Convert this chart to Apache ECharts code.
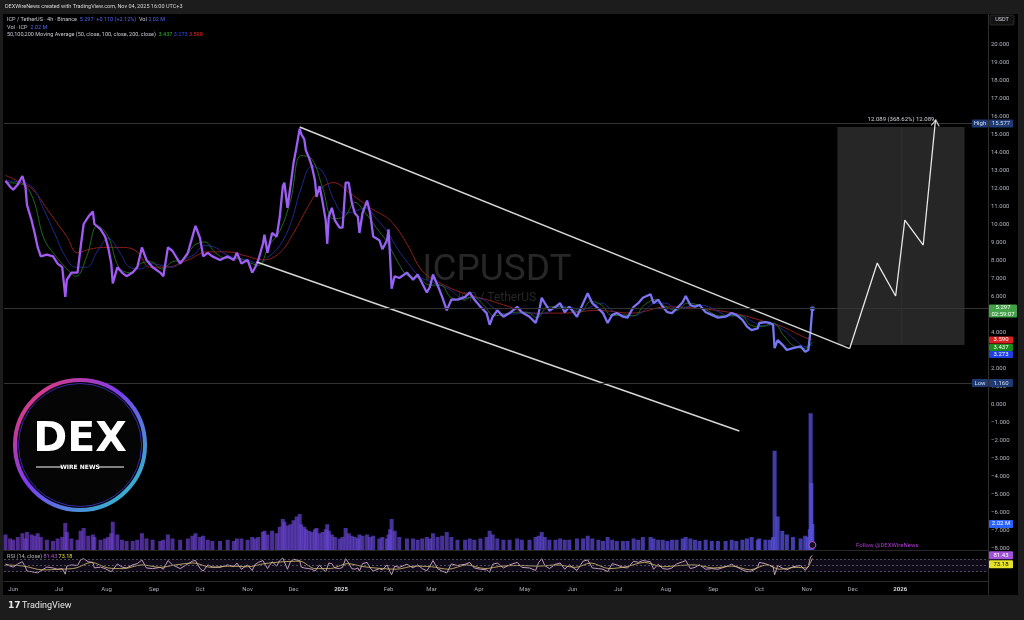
<!DOCTYPE html>
<html><head><meta charset="utf-8">
<script src="https://cdn.jsdelivr.net/npm/echarts@6/dist/echarts.min.js"></script>
<style>html,body{margin:0;padding:0;background:#1c1c1c;}#c{width:1024px;height:620px;}</style>
</head><body><div id="c"></div>
<script>
// ---------------- DATA ----------------
const priceDates = [
'2024-05-27','2024-05-30','2024-06-01','2024-06-04','2024-06-07','2024-06-09','2024-06-10','2024-06-13','2024-06-15','2024-06-17',
'2024-06-19','2024-06-23','2024-06-27','2024-06-30','2024-07-03','2024-07-05','2024-07-06','2024-07-09','2024-07-13','2024-07-15',
'2024-07-17','2024-07-20','2024-07-23','2024-07-24','2024-07-28','2024-07-31','2024-08-02','2024-08-04','2024-08-05','2024-08-08',
'2024-08-11','2024-08-14','2024-08-18','2024-08-21','2024-08-24','2024-08-27','2024-08-31','2024-09-05','2024-09-07','2024-09-10',
'2024-09-13','2024-09-18','2024-09-23','2024-09-26','2024-09-28','2024-10-01','2024-10-03','2024-10-06','2024-10-09','2024-10-14',
'2024-10-19','2024-10-23','2024-10-25','2024-10-28','2024-11-01','2024-11-04','2024-11-06','2024-11-08','2024-11-11','2024-11-12',
'2024-11-14','2024-11-17','2024-11-20','2024-11-22','2024-11-24','2024-11-25','2024-11-27','2024-11-29','2024-12-01','2024-12-03',
'2024-12-05','2024-12-06','2024-12-08','2024-12-09','2024-12-11','2024-12-13','2024-12-15','2024-12-16','2024-12-18','2024-12-20',
'2024-12-22','2024-12-23','2024-12-24','2024-12-26','2024-12-28','2024-12-31','2025-01-02','2025-01-04','2025-01-06','2025-01-08',
'2025-01-10','2025-01-12','2025-01-13','2025-01-15','2025-01-18','2025-01-20','2025-01-22','2025-01-26','2025-01-28','2025-01-31',
'2025-02-01','2025-02-02','2025-02-03','2025-02-05','2025-02-08','2025-02-13','2025-02-17','2025-02-20','2025-02-23','2025-02-26',
'2025-02-28','2025-03-02','2025-03-05','2025-03-08','2025-03-11','2025-03-14','2025-03-18','2025-03-23','2025-03-26','2025-03-29',
'2025-04-02','2025-04-06','2025-04-08','2025-04-10','2025-04-13','2025-04-17','2025-04-21','2025-04-26','2025-04-29','2025-05-04',
'2025-05-08','2025-05-10','2025-05-12','2025-05-14','2025-05-17','2025-05-21','2025-05-24','2025-05-27','2025-05-30','2025-06-04',
'2025-06-08','2025-06-11','2025-06-14','2025-06-18','2025-06-21','2025-06-24','2025-06-27','2025-06-30','2025-07-04','2025-07-07',
'2025-07-11','2025-07-14','2025-07-17','2025-07-22','2025-07-24','2025-07-27','2025-07-30','2025-08-02','2025-08-05','2025-08-08',
'2025-08-12','2025-08-14','2025-08-17','2025-08-20','2025-08-23','2025-08-27','2025-08-31','2025-09-04','2025-09-09','2025-09-13',
'2025-09-16','2025-09-20','2025-09-23','2025-09-26','2025-09-30','2025-10-01','2025-10-05','2025-10-08','2025-10-10','2025-10-11',
'2025-10-13','2025-10-16','2025-10-19','2025-10-23','2025-10-28','2025-10-31','2025-11-02','2025-11-03 00:00','2025-11-03 12:00','2025-11-04 00:00',
'2025-11-04 16:00'];
const priceValues = [
12.4,12.07,11.9,12.2,12.67,12.06,11.06,10.2,9.5,8.7,
8.2,8.3,8.2,7.8,7.6,5.95,6.9,7.3,7.3,8.7,
10.0,10.4,10.7,10.0,9.7,9.3,8.7,7.8,6.7,7.6,
7.3,7.1,7.3,7.6,8.7,8.0,7.6,7.3,7.1,8.7,
8.5,7.8,8.4,9.3,9.9,9.2,8.2,8.4,8.2,8.0,
8.2,8.0,8.4,7.8,8.0,7.3,7.6,8.0,8.9,9.4,
8.4,9.5,9.3,10.4,12.1,12.3,10.9,12.1,13.4,14.3,
15.3,15.0,14.7,14.1,13.7,13.2,12.4,11.5,12.1,11.2,
10.2,8.9,10.4,10.9,10.2,9.8,9.8,12.3,12.3,11.2,
10.6,10.4,9.5,10.6,11.3,10.6,9.3,9.1,8.6,9.1,
9.7,8.2,6.4,7.1,7.0,7.3,6.9,7.2,6.7,6.2,
6.5,7.2,6.6,5.95,5.2,5.8,5.8,5.95,6.2,5.8,
5.4,5.05,4.4,4.85,5.2,4.85,5.05,5.4,5.1,4.85,
4.5,5.05,5.9,5.6,5.2,5.4,5.6,5.1,5.4,4.85,
5.6,6.15,5.6,5.3,5.05,4.5,4.95,5.05,4.85,4.8,
5.4,5.6,5.9,6.1,5.6,5.8,5.4,5.1,5.05,5.3,
5.65,6.0,5.5,5.4,5.5,5.1,4.95,4.8,4.85,5.05,
4.95,4.67,4.3,4.1,4.2,4.5,4.55,4.5,4.4,3.1,
3.55,3.3,3.0,3.1,3.2,2.9,3.0,2.95,4.1,4.67,
5.297];
// volume in millions, same dates as price
const volumeValues = [
1.2,0.9,0.8,1.0,1.3,0.9,1.4,1.2,1.1,1.3,1.0,0.8,0.7,0.9,1.0,2.1,1.4,0.9,0.8,1.5,
1.7,1.1,1.2,1.0,0.8,0.9,1.0,1.3,2.2,1.2,0.8,0.7,0.7,0.8,1.3,0.9,0.8,0.7,0.8,1.2,
0.9,0.8,0.9,1.1,1.3,1.0,1.1,0.8,0.7,0.7,0.8,0.7,0.9,0.9,0.8,1.0,0.9,1.0,1.4,1.5,
1.2,1.5,1.3,1.8,2.4,2.2,1.9,2.0,2.3,2.6,2.8,2.0,1.8,1.6,1.5,1.4,1.6,1.7,1.3,1.4,
1.6,2.0,1.5,1.2,1.0,0.9,1.0,1.7,1.3,1.1,1.0,0.9,1.2,1.1,1.2,1.0,1.1,0.9,1.0,0.9,
1.2,1.6,2.4,1.5,1.0,0.9,0.9,0.8,0.9,1.0,0.9,1.3,1.0,1.1,1.4,1.0,0.8,0.8,0.9,0.8,
0.9,1.0,1.5,1.2,0.9,0.8,0.8,0.9,0.8,0.8,1.0,1.1,1.4,1.0,0.8,0.8,0.9,0.8,0.8,0.9,
0.9,1.1,0.9,0.8,0.7,1.0,0.8,0.7,0.7,0.7,0.9,0.8,1.0,1.0,0.9,0.8,0.8,0.7,0.8,0.8,
0.9,1.0,0.9,0.8,0.7,0.8,0.7,0.7,0.7,0.8,0.7,0.8,0.9,1.0,0.8,0.9,0.8,0.8,1.0,7.7,
2.6,1.5,1.2,1.0,0.9,1.1,1.0,1.6,10.6,5.2,2.02];
// RSI(14), same dates as price
const rsiValues = [
55,48,45,55,62,45,32,30,28,26,33,45,42,38,40,22,48,52,50,68,
72,62,60,42,45,40,35,30,24,55,45,42,52,56,68,42,40,44,38,66,
52,40,55,64,66,40,32,52,45,44,52,46,58,38,52,34,54,60,66,64,
40,62,48,66,74,70,38,62,70,68,66,45,42,38,40,38,32,28,52,38,
30,24,58,56,42,40,44,72,58,40,38,42,32,56,60,42,32,40,36,52,
58,30,20,48,44,54,42,52,40,33,48,66,40,32,26,55,50,54,60,42,
38,36,28,54,58,42,52,60,44,42,34,60,72,50,40,54,58,38,52,34,
64,68,42,40,38,30,56,52,44,42,64,60,66,62,38,54,40,38,42,55,
62,66,40,44,52,38,40,38,46,54,46,36,30,32,44,60,56,50,46,20,
50,42,36,46,50,34,48,44,78,80,81.43];
const rsiMaDates = ['2024-05-27','2024-06-08','2024-06-20','2024-07-02','2024-07-12','2024-07-22','2024-08-02','2024-08-12','2024-08-24','2024-09-05',
'2024-09-15','2024-09-27','2024-10-08','2024-10-20','2024-11-01','2024-11-12','2024-11-24','2024-12-05','2024-12-15','2024-12-25',
'2025-01-05','2025-01-16','2025-01-28','2025-02-06','2025-02-18','2025-03-01','2025-03-12','2025-03-24','2025-04-05','2025-04-16',
'2025-04-28','2025-05-10','2025-05-22','2025-06-03','2025-06-13','2025-06-25','2025-07-06','2025-07-18','2025-07-30','2025-08-10',
'2025-08-20','2025-09-01','2025-09-13','2025-09-25','2025-10-06','2025-10-14','2025-10-25','2025-11-01','2025-11-03 12:00','2025-11-04 16:00'];
const rsiMaValues = [52,48,36,38,42,60,42,40,52,44,52,58,44,48,46,56,62,64,40,40,
56,46,40,38,48,46,38,52,40,48,50,48,52,44,58,40,46,60,46,50,
52,42,48,36,52,38,44,42,60,73.18];
const maDates = ['2024-05-27','2024-06-07','2024-06-14','2024-06-21','2024-06-28','2024-07-05','2024-07-12','2024-07-19','2024-07-26','2024-08-02',
'2024-08-09','2024-08-16','2024-08-23','2024-08-30','2024-09-06','2024-09-13','2024-09-20','2024-09-27','2024-10-04','2024-10-11',
'2024-10-18','2024-10-25','2024-11-01','2024-11-08','2024-11-15','2024-11-22','2024-11-29','2024-12-06','2024-12-13','2024-12-20',
'2024-12-27','2025-01-03','2025-01-10','2025-01-17','2025-01-24','2025-01-31','2025-02-07','2025-02-14','2025-02-21','2025-02-28',
'2025-03-07','2025-03-14','2025-03-21','2025-03-28','2025-04-04','2025-04-11','2025-04-18','2025-04-25','2025-05-02','2025-05-09',
'2025-05-16','2025-05-23','2025-05-30','2025-06-06','2025-06-13','2025-06-20','2025-06-27','2025-07-04','2025-07-11','2025-07-18',
'2025-07-25','2025-08-01','2025-08-08','2025-08-15','2025-08-22','2025-08-29','2025-09-05','2025-09-12','2025-09-19','2025-09-26',
'2025-10-03','2025-10-10','2025-10-17','2025-10-24','2025-10-31','2025-11-04 16:00'];
const ma50Values = [12.3,12.2,11.4,9.2,8.3,7.6,7.1,8.2,9.9,9.3,
7.6,7.3,7.8,7.9,7.5,7.9,8.0,8.8,9.0,8.4,
8.1,8.1,7.9,7.7,8.8,9.6,11.3,13.8,13.6,12.0,
10.3,10.4,11.2,10.6,9.8,9.0,7.9,7.1,7.0,6.6,
6.6,5.9,5.8,5.95,5.5,4.9,5.0,5.1,5.1,4.8,
5.4,5.4,5.3,5.1,5.7,5.5,4.9,4.95,4.9,5.5,
5.8,5.4,5.2,5.6,5.5,5.15,4.9,4.9,4.9,4.35,
4.3,4.5,3.8,3.2,3.1,3.437];
const ma100Values = [12.4,12.3,12.0,10.8,9.5,8.2,7.6,7.6,8.5,9.2,
8.5,7.6,7.5,7.8,7.7,7.6,8.0,8.3,8.8,8.7,
8.3,8.1,8.0,7.8,8.2,8.8,10.0,12.0,13.2,12.9,
11.4,10.6,10.7,10.9,10.3,9.6,8.6,7.8,7.1,6.8,
6.6,6.3,5.9,5.9,5.8,5.3,5.0,5.0,5.1,5.0,
5.1,5.4,5.4,5.2,5.4,5.6,5.2,4.95,4.9,5.2,
5.6,5.6,5.3,5.4,5.5,5.4,5.1,4.9,4.9,4.6,
4.35,4.4,4.1,3.6,3.2,3.273];
const ma200Dates = ['2024-05-27','2024-06-06','2024-06-14','2024-06-25','2024-07-06','2024-07-13','2024-07-21','2024-07-30','2024-08-12','2024-08-21',
'2024-08-29','2024-09-09','2024-09-23','2024-10-06','2024-10-19','2024-11-01','2024-11-11','2024-11-22','2024-12-01','2024-12-10',
'2024-12-18','2024-12-27','2025-01-07','2025-01-20','2025-02-02','2025-02-13','2025-02-23','2025-03-07','2025-03-22','2025-04-06',
'2025-04-21','2025-05-04','2025-05-26','2025-06-17','2025-07-10','2025-08-02','2025-08-23','2025-09-14','2025-10-06','2025-10-16',
'2025-11-01','2025-11-04 16:00'];
const ma200Values = [12.7,12.3,11.9,10.6,9.3,8.4,8.6,8.7,8.7,8.45,
7.6,7.6,8.0,8.45,8.45,8.2,8.0,8.4,9.5,10.9,
11.9,12.3,11.7,10.9,10.2,8.9,7.4,6.7,6.15,5.8,
5.4,5.05,5.05,5.2,5.05,5.4,5.3,5.05,4.55,4.3,
3.65,3.59];
const channelUpperDates = ['2024-12-05','2025-11-29'];
const channelUpperValues = [15.39, 3.08];
const channelLowerDates = ['2024-11-07','2025-09-18'];
const channelLowerValues = [7.89, -1.5];
const projectionDates = ['2025-11-29','2025-12-17','2025-12-29','2026-01-04','2026-01-16','2026-01-24'];
const projectionValues = [3.08, 7.83, 6.0, 10.22, 8.83, 15.78];
const boxDates = ['2025-11-21','2026-01-02','2026-02-12'];
const boxValues = [15.39, 3.28];
const projectionLabel = '12.089 (368.62%) 12.089';
const timeTicks = ['2024-06-01','2024-07-01','2024-08-01','2024-09-01','2024-10-01','2024-11-01','2024-12-01','2025-01-01','2025-02-01','2025-03-01',
'2025-04-01','2025-05-01','2025-06-01','2025-07-01','2025-08-01','2025-09-01','2025-10-01','2025-11-01','2025-12-01','2026-01-01'];
const timeLabels = ['Jun','Jul','Aug','Sep','Oct','Nov','Dec','2025','Feb','Mar','Apr','May','Jun','Jul','Aug','Sep','Oct','Nov','Dec','2026'];
const priceTickRange = [-8, 20];
const extremeLabels = ['High','Low'];
const extremeValues = [15.577, 1.160];
const legendChange = '+0.110 (+2.12%)';
const countdown = '02:59:07';

// ---------------- HELPERS ----------------
function ts(s){const p=s.split(' ');const d=p[0].split('-').map(Number);const h=p[1]?Number(p[1].split(':')[0]):0;return new Date(d[0],d[1]-1,d[2],h).getTime();}
const zip=(ds,vs)=>ds.map((d,i)=>[ts(d),vs[i]]);
const FONT='Roboto, "Liberation Sans", sans-serif';
const xMin=ts('2024-05-26'), xMax=ts('2026-02-27 07:00');
const tickTs=timeTicks.map(ts);
const last=priceValues.length-1;

const lineGrad=new echarts.graphic.LinearGradient(0,0,988,0,[{offset:0,color:'#a659f2'},{offset:0.35,color:'#9a5ff3'},{offset:0.55,color:'#8070f4'},{offset:1,color:'#6a80ee'}],true);
const volGrad=new echarts.graphic.LinearGradient(0,0,988,0,[{offset:0,color:'rgba(110,60,200,0.72)'},{offset:0.5,color:'rgba(95,70,210,0.72)'},{offset:1,color:'rgba(80,85,225,0.8)'}],true);

const xAxisBase={type:'value',min:xMin,max:xMax,show:false,splitLine:{show:false}};
const option={
  backgroundColor:'#000000',
  animation:false,
  grid:[
    {left:4,width:984,top:8,height:558},
    {left:4,width:984,top:400,height:150},
    {left:4,width:984,top:550,height:31}
  ],
  xAxis:[
    Object.assign({gridIndex:0},xAxisBase),
    Object.assign({gridIndex:1},xAxisBase),
    {gridIndex:2,type:'value',min:xMin,max:xMax,position:'bottom',
     axisLine:{show:true,lineStyle:{color:'#2a2a2a'}},axisTick:{show:false},splitLine:{show:false},
     axisLabel:{customValues:tickTs,margin:5,fontSize:6,color:'#a8abb3',fontFamily:FONT,hideOverlap:false,showMinLabel:true,showMaxLabel:true,
       formatter:function(v){let i=-1,best=1e18;tickTs.forEach((t,k)=>{const d=Math.abs(t-v);if(d<best){best=d;i=k;}});if(best>86400000*2)return '';const l=timeLabels[i];return /^\d{4}$/.test(l)?'{y|'+l+'}':l;},
       rich:{y:{fontSize:6,color:'#d8dae0',fontWeight:'bold',fontFamily:FONT}}}}
  ],
  yAxis:[
    {gridIndex:0,type:'value',position:'right',min:-9,max:22,interval:1,
     axisLine:{show:false},axisTick:{show:false},splitLine:{show:false},
     axisLabel:{margin:3,fontSize:6,color:'#b2b5be',fontFamily:FONT,align:'left',
       formatter:function(v){if(v<priceTickRange[0]||v>priceTickRange[1])return '';return (v<0?'\u2212':'')+Math.abs(v).toFixed(3);}}},
    {gridIndex:1,type:'value',min:0,max:11.63,show:false,splitLine:{show:false}},
    {gridIndex:2,type:'value',min:0,max:100,show:false,splitLine:{show:false}}
  ],
  series:[
    {name:'Vol',type:'bar',xAxisIndex:1,yAxisIndex:1,data:zip(priceDates,volumeValues),barWidth:4,itemStyle:{color:volGrad},z:1},
    {name:'MA200',type:'line',data:zip(ma200Dates,ma200Values),showSymbol:false,smooth:0.4,lineStyle:{color:'#8e1d1d',width:1},z:2},
    {name:'MA100',type:'line',data:zip(maDates,ma100Values),showSymbol:false,smooth:0.4,lineStyle:{color:'#1c2a8a',width:1},z:2},
    {name:'MA50',type:'line',data:zip(maDates,ma50Values),showSymbol:false,smooth:0.4,lineStyle:{color:'#1f6a1f',width:1},z:2},
    {name:'Price',type:'line',data:zip(priceDates,priceValues),showSymbol:false,lineStyle:{color:lineGrad,width:2.3},z:3,
     markLine:{silent:true,symbol:['none','none'],label:{show:false},lineStyle:{color:'#333333',width:1,type:'solid'},
       data:[{yAxis:extremeValues[0]},{yAxis:extremeValues[1]},{yAxis:priceValues[last]}]}},
    {name:'Last',type:'scatter',data:[[ts(priceDates[last]),priceValues[last]]],symbolSize:5,itemStyle:{color:'#6a80ee'},z:4},
    {name:'ChannelUpper',type:'line',data:zip(channelUpperDates,channelUpperValues),showSymbol:false,lineStyle:{color:'#d6d6d6',width:1.4},z:4},
    {name:'ChannelLower',type:'line',data:zip(channelLowerDates,channelLowerValues),showSymbol:false,lineStyle:{color:'#d6d6d6',width:1.4},z:4},
    {name:'Box',type:'line',data:[[ts(boxDates[1]),boxValues[0]],[ts(boxDates[1]),boxValues[1]]],showSymbol:false,lineStyle:{color:'#303030',width:1},z:1,
     markArea:{silent:true,itemStyle:{color:'#262626'},
       label:{show:true,position:'top',distance:4,formatter:projectionLabel,color:'#d1d4dc',fontSize:6,fontFamily:FONT},
       data:[[{coord:[ts(boxDates[0]),boxValues[0]]},{coord:[ts(boxDates[2]),boxValues[1]]}]]}},
    {name:'Projection',type:'line',data:zip(projectionDates,projectionValues),showSymbol:false,lineStyle:{color:'#e6e6e6',width:1.3},z:5},
    {name:'Arrow',type:'scatter',data:[[ts(projectionDates[projectionDates.length-1]),projectionValues[projectionValues.length-1]]],
     symbol:'path://M0,10 L5,0 L10,10',symbolSize:[8,6],symbolOffset:[0,3],symbolRotate:-6,
     itemStyle:{color:'rgba(0,0,0,0)',borderColor:'#e6e6e6',borderWidth:1.3},z:5},
    {name:'RSI',type:'line',xAxisIndex:2,yAxisIndex:2,data:zip(priceDates,rsiValues),showSymbol:false,lineStyle:{color:'#c29ab8',width:1},z:3,
     markArea:{silent:true,itemStyle:{color:'rgba(126,87,194,0.12)'},data:[[{yAxis:30},{yAxis:70}]]},
     markLine:{silent:true,symbol:['none','none'],label:{show:false},lineStyle:{color:'#5d606b',width:0.8,type:[2,2]},
       data:[{yAxis:70},{yAxis:50},{yAxis:30}]}},
    {name:'RSI MA',type:'line',xAxisIndex:2,yAxisIndex:2,data:zip(rsiMaDates,rsiMaValues),showSymbol:false,smooth:0.3,lineStyle:{color:'#d8c070',width:1,opacity:0.8},z:3}
  ]
};

const chart=echarts.init(document.getElementById('c'),null,{renderer:'canvas'});
chart.setOption(option);

// ---------------- ANNOTATIONS ----------------
const px=d=>chart.convertToPixel({xAxisIndex:0},ts(d));
const py=v=>chart.convertToPixel({yAxisIndex:0},v);
const pv=v=>chart.convertToPixel({yAxisIndex:1},v);
const pr=v=>chart.convertToPixel({yAxisIndex:2},v);

function txt(x,y,text,o){o=o||{};return {type:'text',x:x,y:y,z:o.z||60,style:Object.assign({text:text,fill:o.fill||'#d1d4dc',font:(o.weight||'normal')+' '+(o.size||6)+'px '+(o.family||FONT),
  textAlign:o.align||'left',align:o.align||'left',textVerticalAlign:'middle',verticalAlign:'middle'},o.rich?{rich:o.rich}:{})};}
function tag(x,yc,w,h,bg,text,fg){return [
  {type:'rect',z:100,shape:{x:x,y:yc-h/2,width:w,height:h,r:1},style:{fill:bg}},
  {type:'text',z:101,x:x+w/2,y:yc,style:{text:text,fill:fg||'#ffffff',font:'6px '+FONT,textAlign:'center',align:'center',textVerticalAlign:'middle',verticalAlign:'middle',lineHeight:6.5}}];}

const g=[];
g.push({type:'rect',z:50,shape:{x:0,y:0,width:1024,height:14},style:{fill:'#1c1c1c'}});
g.push({type:'rect',z:50,shape:{x:0,y:595,width:1024,height:25},style:{fill:'#1c1c1c'}});
g.push({type:'rect',z:50,shape:{x:0,y:14,width:3,height:581},style:{fill:'#1c1c1c'}});
g.push({type:'rect',z:50,shape:{x:1018,y:14,width:6,height:581},style:{fill:'#1c1c1c'}});
g.push({type:'line',z:40,shape:{x1:988.5,y1:14,x2:988.5,y2:595},style:{stroke:'#2e2e2e',lineWidth:1}});
g.push({type:'line',z:40,shape:{x1:3,y1:550.5,x2:988,y2:550.5},style:{stroke:'#262626',lineWidth:1}});
g.push(txt(5,7,'DEXWireNews created with TradingView.com, Nov 04, 2025 16:00 UTC+3',{size:5.5,fill:'#d6d6d6',z:61}));
const blue='#4f66ee';
g.push(txt(7,20,'{g|ICP / TetherUS \u00b7 4h \u00b7 Binance}  {b|'+priceValues[last].toFixed(3)+'  '+legendChange+'}  {g|Vol} {b|'+volumeValues[last].toFixed(2)+' M}',
  {size:5.5,rich:{g:{fill:'#c8cad0',fontSize:5.5,fontFamily:FONT},b:{fill:blue,fontSize:5.5,fontFamily:FONT}}}));
g.push(txt(7,27.5,'{g|Vol \u00b7 ICP}  {b|'+volumeValues[last].toFixed(2)+' M}',{size:5.5,rich:{g:{fill:'#c8cad0',fontSize:5.5,fontFamily:FONT},b:{fill:blue,fontSize:5.5,fontFamily:FONT}}}));
g.push(txt(7,35,'{g|50,100,200 Moving Average (50, close, 100, close, 200, close)}  {gr|'+ma50Values[ma50Values.length-1].toFixed(3)+'} {bl|'+ma100Values[ma100Values.length-1].toFixed(3)+'} {rd|'+ma200Values[ma200Values.length-1].toFixed(3)+'}',
  {size:5.5,rich:{g:{fill:'#c8cad0',fontSize:5.5,fontFamily:FONT},gr:{fill:'#2fb02f',fontSize:5.5,fontFamily:FONT},bl:{fill:'#3050f0',fontSize:5.5,fontFamily:FONT},rd:{fill:'#ee2a2a',fontSize:5.5,fontFamily:FONT}}}));
g.push({type:'text',z:0,x:497,y:271,style:{text:'ICPUSDT',fill:'#272727',font:'37px '+FONT,textAlign:'center',align:'center',textVerticalAlign:'middle',verticalAlign:'middle'}});
g.push({type:'text',z:0,x:497,y:298,style:{text:'ICP / TetherUS',fill:'#272727',font:'12px '+FONT,textAlign:'center',align:'center',textVerticalAlign:'middle',verticalAlign:'middle'}});
g.push({type:'circle',z:60,shape:{cx:80,cy:445,r:65},style:{fill:'#050505',stroke:new echarts.graphic.LinearGradient(0,0,1,1,[{offset:0,color:'#ff3a5a'},{offset:0.45,color:'#7a3cf0'},{offset:1,color:'#1fd8c2'}]),lineWidth:4}});
g.push({type:'circle',z:61,shape:{cx:80,cy:445,r:61.5},style:{fill:'none',stroke:'#3528a8',lineWidth:1}});
g.push({type:'text',z:62,x:80,y:440,style:{text:'DEX',fill:'#ffffff',font:'bold 41px "DejaVu Sans", sans-serif',textAlign:'center',align:'center',textVerticalAlign:'middle',verticalAlign:'middle'}});
g.push({type:'text',z:62,x:80,y:467,style:{text:'WIRE NEWS',fill:'#ffffff',font:'bold 6px "DejaVu Sans", sans-serif',textAlign:'center',align:'center',textVerticalAlign:'middle',verticalAlign:'middle'}});
g.push({type:'line',z:62,shape:{x1:36,y1:467,x2:61,y2:467},style:{stroke:'#ffffff',lineWidth:1}});
g.push({type:'line',z:62,shape:{x1:99,y1:467,x2:124,y2:467},style:{stroke:'#ffffff',lineWidth:1}});
g.push(txt(8,606,'{l|17} {t|TradingView}',{z:61,rich:{l:{fill:'#e6e6e6',fontSize:9,fontWeight:'bold',fontFamily:'"DejaVu Sans", sans-serif'},t:{fill:'#e6e6e6',fontSize:9,fontFamily:FONT}}}));
g.push({type:'rect',z:100,shape:{x:990,y:15,width:24,height:10,r:1},style:{fill:'#121212',stroke:'#303030',lineWidth:0.8}});
g.push(txt(1002,20,'USDT',{size:5.5,align:'center',z:101}));
const hy=py(extremeValues[0]), ly=py(extremeValues[1]);
g.push(...tag(972,hy,16,8,'#1f3a72',extremeLabels[0],'#d6def0'));
g.push(...tag(989,hy,24,8,'#1f3a72',extremeValues[0].toFixed(3),'#d6def0'));
g.push(...tag(972,ly,16,8,'#1f3a72',extremeLabels[1],'#d6def0'));
g.push(...tag(989,ly,24,8,'#1f3a72',extremeValues[1].toFixed(3),'#d6def0'));
const cy=py(priceValues[last]);
g.push(...tag(989,cy+2.3,28,13,'#43a047',priceValues[last].toFixed(3)+'\n'+countdown,'#ffffff'));
const m200=ma200Values[ma200Values.length-1], m50=ma50Values[ma50Values.length-1], m100=ma100Values[ma100Values.length-1];
const my=py(m200);
g.push(...tag(989,my+0.6,24,7,'#d42020',m200.toFixed(3)));
g.push(...tag(989,my+8,24,7,'#1a8a1a',m50.toFixed(3)));
g.push(...tag(989,my+15.2,24,7,'#1f3fe0',m100.toFixed(3)));
g.push(...tag(989,pv(volumeValues[last]),24,8,'#2962ff',volumeValues[last].toFixed(2)+' M'));
g.push(...tag(989,pr(rsiValues[last])-0.5,24,8,'#a052d8',rsiValues[last].toFixed(2)));
g.push(...tag(989,pr(rsiValues[last])+8.5,24,8,'#e4e22a',rsiMaValues[rsiMaValues.length-1].toFixed(2),'#111111'));
g.push(txt(7,557,'{g|RSI (14, close)} {p|'+rsiValues[last].toFixed(2)+'} {y|'+rsiMaValues[rsiMaValues.length-1].toFixed(2)+'}',
  {size:5.5,rich:{g:{fill:'#b2b5be',fontSize:5.5,fontFamily:FONT},p:{fill:'#b35de0',fontSize:5.5,fontFamily:FONT},y:{fill:'#e5e03a',fontSize:5.5,fontFamily:FONT}}}));
const ex=px(priceDates[last]), ey=pv(0)-5;
g.push({type:'circle',z:60,shape:{cx:ex,cy:ey,r:3.5},style:{fill:'#1a0f20',stroke:'#b05ad0',lineWidth:1}});
g.push(txt(856,545,'Follow @DEXWireNews',{size:6,fill:'#b23cd6'}));
chart.setOption({graphic:g});
</script></body></html>
